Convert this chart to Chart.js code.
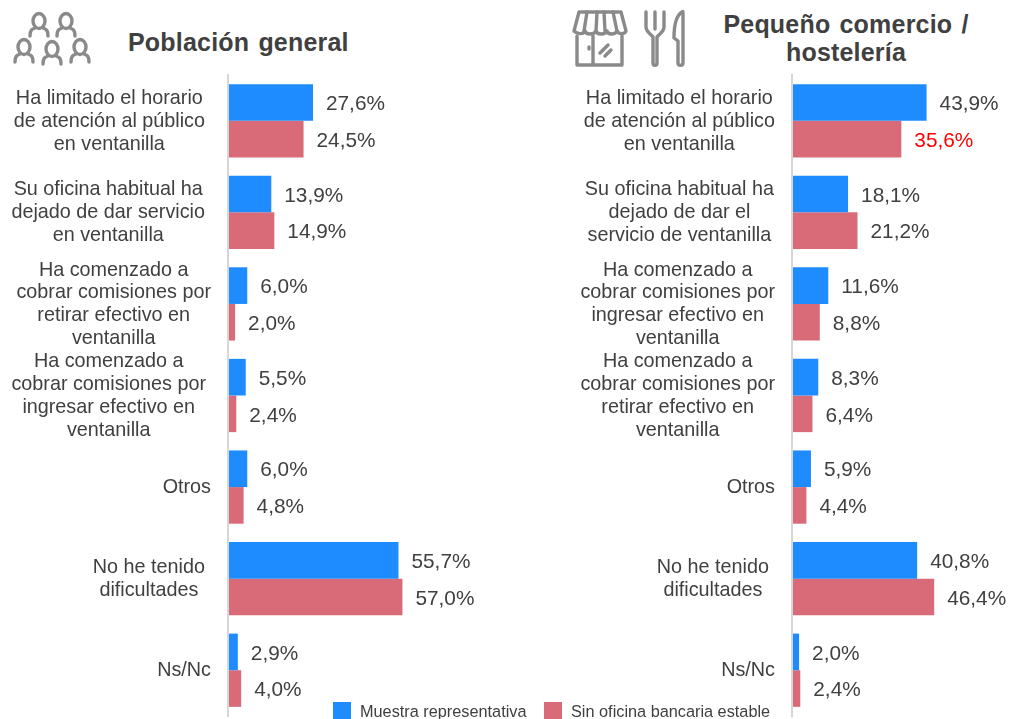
<!DOCTYPE html>
<html>
<head>
<meta charset="utf-8">
<script src="https://cdn.jsdelivr.net/npm/chart.js@4/dist/chart.umd.min.js"></script>
<style>
  html, body { margin: 0; padding: 0; background: #fff; }
  body { position: relative; width: 1011px; height: 719px; overflow: hidden; font-family: "Liberation Sans", Arial, sans-serif; color: #404040; }
  canvas { position: absolute; top: 0; }
  #chartGeneral { left: 0; }
  #chartComercio { left: 564px; }
  .title { position: absolute; font-weight: bold; font-size: 25px; line-height: 28px; text-align: center; letter-spacing: 0.2px; word-spacing: 2px; white-space: nowrap; }
  #titleGeneral { left: 128px; top: 28px; }
  #titleComercio { left: 696px; width: 300px; top: 10px; }
  svg { position: absolute; left: 0; top: 0; }
  .legend-item { position: absolute; top: 702px; font-size: 16.3px; line-height: 18px; white-space: nowrap; }
  .legend-item i { position: absolute; left: 0; top: 0; width: 18px; height: 17px; }
  .legend-item span { position: absolute; left: 27px; top: 0; }
</style>
</head>
<body>
<svg width="1011" height="80" fill="none" stroke="#8a8a8a" stroke-width="3.4" stroke-linecap="round" stroke-linejoin="round">
  <g id="people">
    <ellipse cx="39" cy="21" rx="6" ry="7.5"/><path d="M30 36c0-6 2-7 5-8M48 36c0-6-2-7-5-8"/>
    <ellipse cx="66" cy="21" rx="6" ry="7.5"/><path d="M57 36c0-6 2-7 5-8M75 36c0-6-2-7-5-8"/>
    <ellipse cx="24" cy="47" rx="6" ry="7.5"/><path d="M15 62c0-6 2-7 5-8M33 62c0-6-2-7-5-8"/>
    <ellipse cx="52" cy="49" rx="6" ry="7.5"/><path d="M43 64c0-6 2-7 5-8M61 64c0-6-2-7-5-8"/>
    <ellipse cx="80" cy="47" rx="6" ry="7.5"/><path d="M71 62c0-6 2-7 5-8M89 62c0-6-2-7-5-8"/>
  </g>
  <g id="store">
    <path d="M579 12h42l5 19c-1 3-7 4-9 0-2 4-9 4-10 0-2 4-10 4-11 0-2 4-10 4-11 0-2 4-8 3-11 0z"/>
    <path d="M587 12l-3 19M597 12l-1 19M604 12l1 19M613 12l4 19"/>
    <path d="M577 36v29h45v-29M593 36v29"/>
    <path d="M600 53l8-8M605 56l6-6M589 47v2"/>
  </g>
  <g id="cutlery">
    <path d="M646 12v15c0 5 5 7 7 10v26c0 3 4 3 4 0v-26c2-3 7-5 7-10v-15M655 12v17"/>
    <path d="M682 12c-5 3-8 12-8 26l4 3v22c0 3 5 3 5 0v-50c0-1 0-2-1-1z"/>
  </g>
</svg>

<div class="title" id="titleGeneral">Población general</div>
<div class="title" id="titleComercio">Pequeño comercio /<br>hostelería</div>

<canvas id="chartGeneral" width="500" height="719"></canvas>
<canvas id="chartComercio" width="447" height="719"></canvas>
<div id="legend"></div>

<script>
// Categories, one array of lines per bar group
const categoriesGeneral = [
  ["Ha limitado el horario", "de atención al público", "en ventanilla"],
  ["Su oficina habitual ha", "dejado de dar servicio", "en ventanilla"],
  ["Ha comenzado a", "cobrar comisiones por", "retirar efectivo en", "ventanilla"],
  ["Ha comenzado a", "cobrar comisiones por", "ingresar efectivo en", "ventanilla"],
  ["Otros"],
  ["No he tenido", "dificultades"],
  ["Ns/Nc"],
];
const categoriesComercio = [
  ["Ha limitado el horario", "de atención al público", "en ventanilla"],
  ["Su oficina habitual ha", "dejado de dar el", "servicio de ventanilla"],
  ["Ha comenzado a", "cobrar comisiones por", "ingresar efectivo en", "ventanilla"],
  ["Ha comenzado a", "cobrar comisiones por", "retirar efectivo en", "ventanilla"],
  ["Otros"],
  ["No he tenido", "dificultades"],
  ["Ns/Nc"],
];

// Values in %
const muestraGeneral = [27.6, 13.9, 6.0, 5.5, 6.0, 55.7, 2.9];
const sinOficinaGeneral = [24.5, 14.9, 2.0, 2.4, 4.8, 57.0, 4.0];
const muestraComercio = [43.9, 18.1, 11.6, 8.3, 5.9, 40.8, 2.0];
const sinOficinaComercio = [35.6, 21.2, 8.8, 6.4, 4.4, 46.4, 2.4];

const seriesNames = ["Muestra representativa", "Sin oficina bancaria estable"];
const seriesColors = ["#1e8cff", "#d96b78"];
const textColor = "#404040";

// Draw the category labels, each block centred on itself and right aligned to the axis
const categoryLabels = {
  id: "categoryLabels",
  afterDraw(chart, args, opts) {
    const ctx = chart.ctx;
    const yScale = chart.scales.y;
    ctx.save();
    ctx.font = "19.8px 'Liberation Sans', Arial, sans-serif";
    ctx.fillStyle = textColor;
    ctx.textAlign = "center";
    ctx.textBaseline = "middle";
    chart.data.labels.forEach((lines, i) => {
      const widest = Math.max(...lines.map(l => ctx.measureText(l).width));
      const centerX = chart.chartArea.left - opts.gaps[i] - widest / 2;
      const centerY = yScale.getPixelForValue(i) + 0.5;
      lines.forEach((line, n) => {
        ctx.fillText(line, centerX, centerY + (n - (lines.length - 1) / 2) * 22.9);
      });
    });
    ctx.restore();
  },
};

// Value labels to the right of the bars
const valueLabels = {
  id: "valueLabels",
  afterDatasetsDraw(chart, args, opts) {
    const ctx = chart.ctx;
    ctx.save();
    ctx.font = "20.8px 'Liberation Sans', Arial, sans-serif";
    ctx.textAlign = "left";
    ctx.textBaseline = "middle";
    chart.data.datasets.forEach((ds, d) => {
      chart.getDatasetMeta(d).data.forEach((bar, i) => {
        const isRed = opts.highlight && opts.highlight[0] === d && opts.highlight[1] === i;
        ctx.fillStyle = isRed ? "#ff0000" : textColor;
        ctx.fillText(ds.data[i].toFixed(1).replace(".", ",") + "%", bar.x + 13, bar.y + 2);
      });
    });
    ctx.restore();
  },
};

function makeChart(id, labels, muestra, sinOficina, rightPadding, gaps, highlight) {
  return new Chart(document.getElementById(id).getContext("2d"), {
    type: "bar",
    data: {
      labels: labels,
      datasets: [
        { label: seriesNames[0], data: muestra, backgroundColor: seriesColors[0] },
        { label: seriesNames[1], data: sinOficina, backgroundColor: seriesColors[1] },
      ],
    },
    options: {
      indexAxis: "y",
      responsive: false,
      animation: false,
      layout: { padding: { left: 228, right: rightPadding, top: 75, bottom: 3 } },
      datasets: { bar: { categoryPercentage: 0.8, barPercentage: 1 } },
      scales: {
        // min just under 0 so the axis line sits left of the bars, not under them
        x: { min: -0.33, max: 70, display: false },
        y: {
          grid: { display: false, drawTicks: false },
          border: { display: true, color: "#d6d6d6", width: 2 },
          ticks: { display: false },
        },
      },
      plugins: {
        legend: { display: false },
        tooltip: { enabled: false },
        categoryLabels: { gaps: gaps },
        valueLabels: { highlight: highlight },
      },
    },
    plugins: [categoryLabels, valueLabels],
  });
}

const chartGeneral = makeChart("chartGeneral", categoriesGeneral, muestraGeneral, sinOficinaGeneral, 58,
  [23, 23, 17, 22, 17, 23, 17], null);
makeChart("chartComercio", categoriesComercio, muestraComercio, sinOficinaComercio, 5,
  [17, 18, 17, 17, 17, 23, 17], [1, 0]);

// Legend from the chart's datasets
const legendLeft = [333, 544];
chartGeneral.data.datasets.forEach((ds, i) => {
  const item = document.createElement("div");
  item.className = "legend-item";
  item.style.left = legendLeft[i] + "px";
  item.innerHTML = '<i style="background:' + ds.backgroundColor + '"></i><span>' + ds.label + "</span>";
  document.getElementById("legend").appendChild(item);
});
</script>
</body>
</html>
